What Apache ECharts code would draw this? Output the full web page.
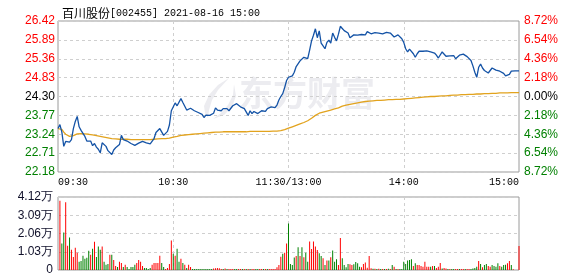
<!DOCTYPE html>
<html><head><meta charset="utf-8">
<script src="https://cdn.jsdelivr.net/npm/echarts@6/dist/echarts.min.js"></script>
<style>html,body{margin:0;padding:0;background:#fff}#c{width:578px;height:276px}</style>
</head><body><div id="c"></div>
<script>
const stockName = '百川股份';
const stockCode = '[002455]';
const stamp = '2021-08-16 15:00';
const preClose = 24.30;
const pctMax = 8.72, pctStep = 2.18;
const volMax = 41200, volStep = 10300;
const xTickIndex = [0, 60, 120, 180, 240];
const xTickLabels = ['09:30', '10:30', '11:30/13:00', '14:00', '15:00'];
const watermark = '东方财富';

const price = [
23.40,23.51,23.30,22.90,23.04,23.08,23.02,23.09,23.40,23.60,
23.74,23.45,23.35,23.30,23.18,23.05,23.00,23.05,22.92,22.98,
22.88,22.82,22.72,23.00,22.98,22.90,22.78,22.82,22.67,22.80,
22.86,22.84,22.95,23.21,23.09,23.12,23.05,23.00,22.98,22.95,
22.93,22.96,22.99,23.02,23.04,23.02,23.00,22.98,22.97,23.02,
23.12,23.29,23.33,23.40,23.38,23.21,23.24,23.32,23.50,23.90,
23.85,24.12,24.04,24.02,24.24,24.13,24.15,23.92,23.95,23.97,
23.93,23.90,23.88,23.85,23.86,23.80,23.71,23.78,23.80,23.77,
23.76,23.83,23.98,23.92,23.96,23.90,23.96,24.00,23.96,23.90,
23.97,24.04,24.04,24.10,24.05,24.01,24.04,23.96,23.94,23.77,
23.90,23.82,23.88,23.92,23.82,23.85,23.90,23.85,23.88,23.96,
24.00,24.01,24.01,23.99,24.06,24.20,24.30,24.38,24.55,24.75,
24.84,24.80,24.88,24.98,25.14,25.18,25.30,25.34,25.40,25.44,
25.36,25.60,25.86,26.02,26.20,25.95,26.14,25.80,25.72,25.64,
25.82,25.88,25.80,26.08,25.96,25.86,26.05,26.27,26.21,26.15,
26.10,26.08,25.95,25.94,26.03,25.98,26.02,25.98,26.04,25.99,
26.03,26.12,26.17,26.06,26.07,26.09,26.04,26.08,26.10,26.06,
26.08,26.10,26.10,26.08,26.04,25.97,26.02,26.03,25.98,25.92,
25.82,25.64,25.55,25.63,25.58,25.50,25.40,25.50,25.57,25.59,
25.57,25.52,25.58,25.56,25.55,25.54,25.52,25.46,25.38,25.33,
25.55,25.54,25.43,25.46,25.44,25.47,25.45,25.36,25.40,25.46,
25.51,25.49,25.45,25.42,25.39,25.31,25.16,24.98,24.84,25.12,
25.21,25.10,25.03,25.05,24.96,24.92,25.10,25.08,25.04,25.01,
25.01,24.98,24.95,24.88,24.83,24.92,25.01,25.02,25.02,25.02,25.02
];

const avgPrice = [
23.40,23.42,23.38,23.30,23.24,23.20,23.18,23.18,23.20,23.22,
23.25,23.26,23.26,23.26,23.25,23.25,23.24,23.23,23.22,23.21,
23.20,23.19,23.18,23.17,23.16,23.15,23.14,23.13,23.12,23.11,
23.11,23.10,23.10,23.10,23.10,23.10,23.10,23.10,23.09,23.09,
23.09,23.09,23.09,23.09,23.09,23.09,23.09,23.09,23.09,23.09,
23.10,23.10,23.11,23.11,23.12,23.12,23.12,23.12,23.13,23.14,
23.16,23.17,23.18,23.20,23.21,23.21,23.22,23.22,23.23,23.23,
23.24,23.24,23.25,23.25,23.26,23.26,23.27,23.27,23.28,23.28,
23.29,23.29,23.30,23.30,23.30,23.31,23.31,23.31,23.31,23.31,
23.31,23.31,23.31,23.31,23.31,23.31,23.31,23.31,23.31,23.31,
23.32,23.32,23.32,23.32,23.32,23.32,23.32,23.32,23.32,23.32,
23.32,23.33,23.33,23.33,23.33,23.33,23.34,23.35,23.37,23.39,
23.41,23.43,23.45,23.47,23.49,23.51,23.53,23.55,23.57,23.59,
23.62,23.65,23.69,23.73,23.77,23.80,23.83,23.85,23.86,23.88,
23.89,23.90,23.92,23.93,23.95,23.96,23.98,24.01,24.03,24.05,
24.06,24.07,24.08,24.09,24.10,24.11,24.12,24.13,24.14,24.15,
24.16,24.16,24.17,24.17,24.18,24.18,24.19,24.19,24.19,24.20,
24.20,24.20,24.21,24.21,24.21,24.21,24.22,24.22,24.22,24.22,
24.23,24.23,24.24,24.24,24.25,24.25,24.26,24.26,24.27,24.27,
24.28,24.28,24.29,24.29,24.30,24.30,24.30,24.31,24.31,24.31,
24.32,24.32,24.32,24.33,24.33,24.33,24.34,24.34,24.34,24.34,
24.35,24.35,24.35,24.35,24.36,24.36,24.36,24.36,24.37,24.37,
24.37,24.37,24.38,24.38,24.38,24.38,24.39,24.39,24.39,24.39,
24.40,24.40,24.40,24.40,24.40,24.41,24.41,24.41,24.41,24.41,24.41
];

const volume = [
0,39100,14900,21200,38300,13700,18300,11400,7400,12600,
9700,4600,5100,8000,6300,6900,10900,8600,12000,16000,
7400,13200,11400,13200,4600,2900,3400,8600,8600,5700,
2300,1700,4600,4000,1700,2900,1700,600,1700,1700,
2900,4000,5700,4600,2300,1100,1100,600,1100,2900,
4000,4000,4000,8000,4000,1700,600,1100,3400,16600,
9200,8000,12000,4600,6300,4000,2900,1100,2900,1700,
600,500,500,600,500,600,500,500,600,500,
600,900,1000,1100,1000,600,500,900,500,500,
600,500,500,500,600,500,500,500,600,500,
500,500,600,500,500,500,500,500,500,500,
600,500,500,600,1500,2860,7440,9150,9730,14900,
26300,3400,2800,7000,7900,12900,7900,12900,7200,9800,
4700,16100,11900,16100,13200,11300,9500,7900,6600,2800,
5300,5300,7200,11000,4700,6000,2800,18100,6600,2800,
1500,3400,3200,2800,3200,4500,3800,1900,1500,3400,
4200,1200,7900,1000,700,700,600,700,500,600,
500,500,700,600,2800,1900,600,500,500,600,
4700,3400,5300,5700,6000,2300,3800,2800,2800,2300,
1900,4700,1900,1900,1900,2300,2300,1100,1900,4000,
800,1100,800,600,500,600,500,600,500,500,
600,500,500,600,500,600,800,1100,1900,5100,
3400,1500,2800,3400,2300,1900,2800,2300,1900,3800,
2300,1900,2800,3000,3800,5100,2800,400,0,0,13600
];

// 1 = price up that minute (red), -1 = down (green)
const volDir = [
1,1,-1,-1,1,1,-1,1,1,1,
1,-1,-1,-1,-1,-1,-1,1,-1,1,
-1,-1,-1,1,-1,-1,-1,1,-1,1,
1,-1,1,1,-1,1,-1,-1,-1,-1,
-1,1,1,1,1,-1,-1,-1,-1,1,
1,1,1,1,-1,-1,1,1,1,1,
-1,1,-1,-1,1,-1,1,-1,1,1,
-1,-1,-1,-1,-1,-1,-1,-1,-1,-1,
-1,1,1,1,1,1,-1,1,-1,1,
1,1,-1,-1,1,1,-1,1,-1,1,
-1,1,1,-1,-1,1,1,-1,1,-1,
1,1,1,1,1,1,1,-1,1,1,
-1,-1,-1,-1,1,-1,1,-1,1,-1,
-1,1,1,1,1,1,-1,-1,1,-1,
1,-1,1,-1,-1,-1,1,1,-1,-1,
-1,-1,1,1,-1,-1,-1,-1,1,1,
1,1,1,1,-1,1,-1,1,-1,1,
-1,1,-1,1,-1,1,-1,1,-1,-1,
-1,-1,-1,-1,-1,1,-1,1,1,1,
1,1,1,1,-1,1,-1,1,1,1,
-1,1,1,-1,1,-1,-1,1,1,-1,
1,1,-1,1,1,-1,-1,-1,-1,1,
-1,1,-1,-1,1,1,-1,-1,-1,-1,
1,-1,-1,-1,1,1,-1,1,1,1,1
];

// minute categories 09:30-11:30, 13:01-15:00
const categories = [];
function pad(n){return (n<10?'0':'')+n;}
for (let m = 9*60+30; m <= 11*60+30; m++) categories.push(pad(Math.floor(m/60))+':'+pad(m%60));
for (let m = 13*60+1; m <= 15*60; m++) categories.push(pad(Math.floor(m/60))+':'+pad(m%60));

const RED = '#ff0000', GREEN = '#008000';
const pct = p => (p / preClose - 1) * 100;
const signColor = v => v > 1e-6 ? RED : (v < -1e-6 ? GREEN : '#000');

const chart = echarts.init(document.getElementById('c'), null, {renderer: 'canvas'});
const dashed = {show: true, lineStyle: {color: '#cfcfcf', type: [3, 3], width: 1}};
const vSplit = {show: true, interval: (i) => i === 60 || i === 120 || i === 180, lineStyle: {color: '#cfcfcf', type: [3, 3], width: 1}};
const wmColor = '#ececf0';

chart.setOption({
  animation: false,
  backgroundColor: '#fff',
  title: {
    left: 57, top: 2,
    text: '{a|' + stockName + '}{b|' + stockCode + ' ' + stamp + '}',
    textStyle: {
      fontWeight: 'normal',
      rich: {
        a: {fontFamily: 'Noto Sans CJK SC', fontSize: 12, color: '#000', fontWeight: 'normal'},
        b: {fontFamily: 'Liberation Mono', fontSize: 10, color: '#000', fontWeight: 'normal'}
      }
    }
  },
  graphic: [
    {type: 'text', left: 239, top: 76, z: 0, silent: true,
     style: {text: watermark, font: 'bold 34px "Noto Sans CJK SC"', fill: wmColor}},
    {type: 'polygon', z: 0, silent: true,
     shape: {points: [[229,78],[218,85],[209,95],[204,106],[205,113],[208,118],[209,110],[212,100],[218,90]]},
     style: {fill: wmColor}},
    {type: 'polygon', z: 0, silent: true,
     shape: {points: [[234,84],[233,95],[228,105],[221,113],[213,119],[224,115],[232,107],[236,96]]},
     style: {fill: wmColor}}
  ],
  grid: [
    {left: 58, top: 21, width: 461, height: 151, show: true, borderColor: '#9a9a9a', borderWidth: 1, backgroundColor: 'transparent'},
    {left: 58, top: 197, width: 461, height: 73, show: true, borderColor: '#9a9a9a', borderWidth: 1, backgroundColor: 'transparent'}
  ],
  xAxis: [
    {type: 'category', gridIndex: 0, data: categories, boundaryGap: false,
     axisLine: {show: false}, axisTick: {show: false},
     axisLabel: {
       interval: (i) => xTickIndex.indexOf(i) >= 0,
       formatter: (v, i) => { const k = xTickIndex.indexOf(i); return k >= 0 ? xTickLabels[k] : ''; },
       fontFamily: 'Liberation Mono', fontSize: 10, color: '#000', margin: 5,
       alignMinLabel: 'left', alignMaxLabel: 'right'
     },
     splitLine: vSplit},
    {type: 'category', gridIndex: 1, data: categories, boundaryGap: false,
     axisLine: {show: false}, axisTick: {show: false}, axisLabel: {show: false},
     splitLine: vSplit}
  ],
  yAxis: [
    {type: 'value', gridIndex: 0, min: -pctMax, max: pctMax, interval: pctStep, position: 'left',
     axisLine: {show: false}, axisTick: {show: false},
     axisLabel: {margin: 3, fontFamily: 'Liberation Sans', fontSize: 12,
       formatter: v => (preClose * (1 + v / 100)).toFixed(2), color: v => signColor(v)},
     splitLine: dashed},
    {type: 'value', gridIndex: 0, min: -pctMax, max: pctMax, interval: pctStep, position: 'right',
     axisLine: {show: false}, axisTick: {show: false},
     axisLabel: {margin: 5, fontFamily: 'Liberation Sans', fontSize: 12,
       formatter: v => Math.abs(v).toFixed(2) + '%', color: v => signColor(v)},
     splitLine: {show: false}},
    {type: 'value', gridIndex: 1, min: 0, max: volMax, interval: volStep,
     axisLine: {show: false}, axisTick: {show: false},
     axisLabel: {margin: 5, fontFamily: 'Liberation Sans', fontSize: 12, color: '#10102a',
       formatter: v => v === 0 ? '0' : (v / 10000).toFixed(2) + '万'},
     splitLine: dashed}
  ],
  series: [
    {type: 'bar', xAxisIndex: 1, yAxisIndex: 2, barWidth: 1, silent: true,
     data: volume.map((v, i) => ({value: v, itemStyle: {color: volDir[i] > 0 ? RED : GREEN}}))},
    {type: 'line', xAxisIndex: 0, yAxisIndex: 0, data: avgPrice.map(pct), showSymbol: false, silent: true,
     lineStyle: {color: '#e2a31e', width: 1.3}, z: 3},
    {type: 'line', xAxisIndex: 0, yAxisIndex: 0, data: price.map(pct), showSymbol: false, silent: true,
     lineStyle: {color: '#1453a6', width: 1.3}, z: 4}
  ]
});
</script>
</body></html>
